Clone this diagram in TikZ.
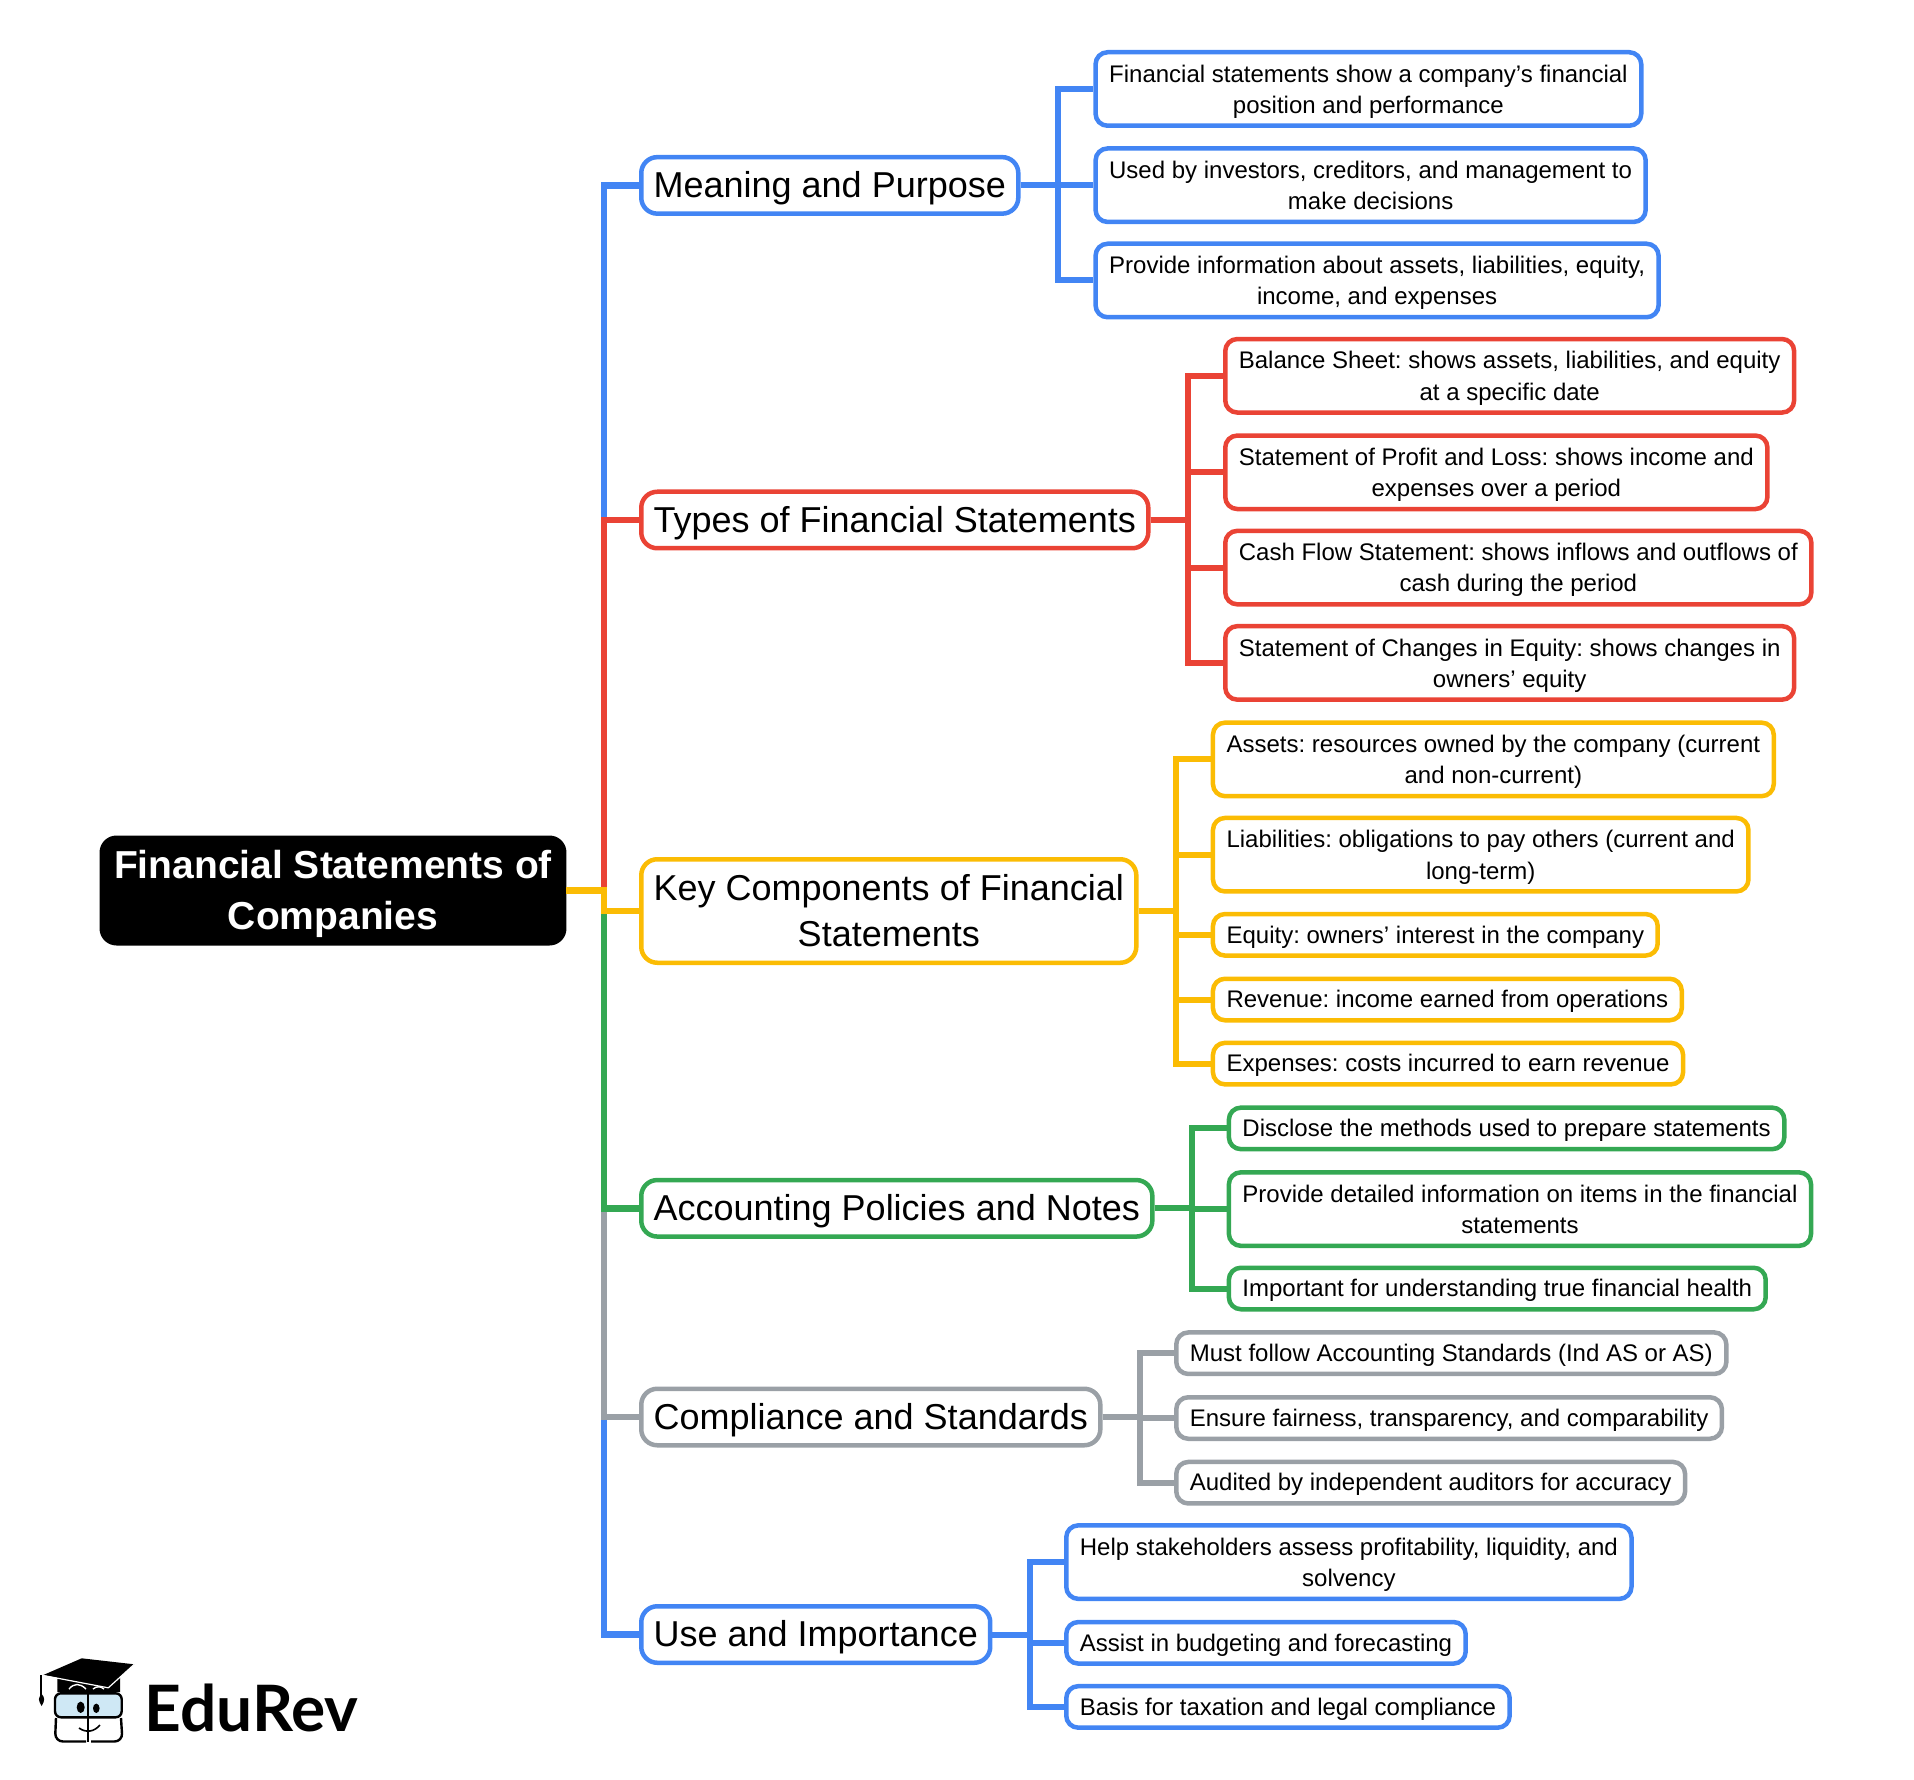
\documentclass[tikz,border=0pt]{standalone}
\usepackage{fontspec}
\setmainfont{Liberation Sans}
\newfontfamily\logofont{Lato}
\frenchspacing

\definecolor{gblue}{HTML}{4285F4}
\definecolor{gred}{HTML}{EA4335}
\definecolor{gyellow}{HTML}{FBBC04}
\definecolor{ggreen}{HTML}{34A853}
\definecolor{ggray}{HTML}{9AA0A6}
\definecolor{lenscol}{HTML}{CFE8F5}

\tikzset{
  rootbox/.style={fill=black, draw=black, line width=1pt, text=white, rounded corners=8pt, align=center,
    font=\fontsize{19.5}{25.2}\selectfont\bfseries, inner xsep=6.8pt, minimum height=54pt,
    text height=38.7pt, text depth=0pt},
  branch/.style={draw=#1, line width=2.25pt, rounded corners=8pt, align=center, anchor=west, fill=white,
    font=\fontsize{18}{23.3}\selectfont, inner xsep=6.2pt, minimum height=28.25pt,
    text height=16pt, text depth=4pt},
  leaf/.style={draw=#1, line width=2.25pt, rounded corners=6pt, align=center, anchor=west, fill=white,
    font=\fontsize{12}{15.6}\selectfont, inner xsep=6.8pt, minimum height=20.75pt,
    text height=10.6pt, text depth=2.4pt},
  tall/.style={minimum height=36.75pt, text height=24.3pt, text depth=0pt},
  elbow/.style={draw=#1, line width=3pt, to path={(\tikztostart.east) -- ++(37.5,0) |- (\tikztotarget.west)}},
  trunk/.style={elbow=#1, line width=3.4pt},
}

\begin{document}
\begin{tikzpicture}[x=0.5pt, y=-0.5pt]
      \useasboundingbox (0,0) rectangle (1914,1780);

      \node[rootbox] (root) at (333,890.5) {Financial Statements of\\Companies};

      \node[branch=gblue]   (mean) at (639,185.4)  {Meaning and Purpose};
      \node[branch=gred]    (type) at (639,520)    {Types of Financial Statements};
      \node[branch=gyellow, minimum height=51.75pt, text height=35.7pt, text depth=0pt] (comp) at (639,911) {Key Components of Financial\\Statements};
      \node[branch=ggreen]  (poli) at (639,1208.3) {Accounting Policies and Notes};
      \node[branch=ggray]   (stan) at (639,1417)   {Compliance and Standards};
      \node[branch=gblue]   (used) at (639,1634.5) {Use and Importance};

      \node[leaf=gblue, tall] (mean1) at (1093.3,89)    {Financial statements show a company’s financial\\position and performance};
      \node[leaf=gblue, tall] (mean2) at (1093.3,185.2) {Used by investors, creditors, and management to\\make decisions};
      \node[leaf=gblue, tall] (mean3) at (1093.3,280.5) {Provide information about assets, liabilities, equity,\\income, and expenses};

      \node[leaf=gred, tall] (type1) at (1223,375.8) {Balance Sheet: shows assets, liabilities, and equity\\at a specific date};
      \node[leaf=gred, tall] (type2) at (1223,472.3) {Statement of Profit and Loss: shows income and\\expenses over a period};
      \node[leaf=gred, tall] (type3) at (1223,567.6) {Cash Flow Statement: shows inflows and outflows of\\cash during the period};
      \node[leaf=gred, tall] (type4) at (1223,662.9) {Statement of Changes in Equity: shows changes in\\owners’ equity};

      \node[leaf=gyellow, tall] (comp1) at (1210.7,759.4) {Assets: resources owned by the company (current\\and non-current)};
      \node[leaf=gyellow, tall] (comp2) at (1210.7,854.7) {Liabilities: obligations to pay others (current and\\long-term)};
      \node[leaf=gyellow] (comp3) at (1210.7,934.8)  {Equity: owners’ interest in the company};
      \node[leaf=gyellow] (comp4) at (1210.7,999.5)  {Revenue: income earned from operations};
      \node[leaf=gyellow] (comp5) at (1210.7,1063.6) {Expenses: costs incurred to earn revenue};

      \node[leaf=ggreen] (poli1) at (1226.6,1128.4) {Disclose the methods used to prepare statements};
      \node[leaf=ggreen, tall] (poli2) at (1226.6,1209.1) {Provide detailed information on items in the financial\\statements};
      \node[leaf=ggreen] (poli3) at (1226.6,1288.5) {Important for understanding true financial health};

      \node[leaf=ggray] (stan1) at (1174,1353.2) {Must follow Accounting Standards (Ind AS or AS)};
      \node[leaf=ggray] (stan2) at (1174,1418)   {Ensure fairness, transparency, and comparability};
      \node[leaf=ggray] (stan3) at (1174,1482.7) {Audited by independent auditors for accuracy};

      \node[leaf=gblue, tall] (used1) at (1064,1562.1) {Help stakeholders assess profitability, liquidity, and\\solvency};
      \node[leaf=gblue] (used2) at (1064,1642.8) {Assist in budgeting and forecasting};
      \node[leaf=gblue] (used3) at (1064,1706.9) {Basis for taxation and legal compliance};

      % main branches, last one on top
      \path (root) edge[trunk=gblue]   (mean);
      \path (root) edge[trunk=gred]    (type);
      \path (root) edge[trunk=gblue]   (used);
      \path (root) edge[trunk=ggray]   (stan);
      \path (root) edge[trunk=ggreen]  (poli);
      \path (root) edge[trunk=gyellow] (comp);

      \path (mean) edge[elbow=gblue] (mean1);
      \path (mean) edge[elbow=gblue] (mean2);
      \path (mean) edge[elbow=gblue] (mean3);

      \path (type) edge[elbow=gred] (type1);
      \path (type) edge[elbow=gred] (type2);
      \path (type) edge[elbow=gred] (type3);
      \path (type) edge[elbow=gred] (type4);

      \path (comp) edge[elbow=gyellow] (comp1);
      \path (comp) edge[elbow=gyellow] (comp2);
      \path (comp) edge[elbow=gyellow] (comp3);
      \path (comp) edge[elbow=gyellow] (comp4);
      \path (comp) edge[elbow=gyellow] (comp5);

      \path (poli) edge[elbow=ggreen] (poli1);
      \path (poli) edge[elbow=ggreen] (poli2);
      \path (poli) edge[elbow=ggreen] (poli3);

      \path (stan) edge[elbow=ggray] (stan1);
      \path (stan) edge[elbow=ggray] (stan2);
      \path (stan) edge[elbow=ggray] (stan3);

      \path (used) edge[elbow=gblue] (used1);
      \path (used) edge[elbow=gblue] (used2);
      \path (used) edge[elbow=gblue] (used3);

      % logo
      \node[anchor=base west, inner sep=0pt, font=\fontsize{32}{32}\logofont\bfseries] (logo) at (144.5,1731) {EduRev};
      \fill (57.3,1677) -- (120,1675) -- (120,1692) -- (57.3,1692) -- cycle;
      \fill (43.3,1675) -- (81.7,1658.3) -- (134.3,1664.3) -- (108.3,1687.3) -- cycle;
      \draw[line width=0.6pt, white] (43.3,1675.5) -- (108.3,1687.8) -- (134.3,1664.3);
      \draw[line width=0.7pt] (41,1675) -- (41,1697);
      \fill (41.7,1694) .. controls (38,1698) and (38,1700) .. (41.7,1706) .. controls (45,1700) and (45,1698) .. (41.7,1694) -- cycle;
      \draw[white, line width=0.7pt] (69,1689) .. controls (74,1683) and (80,1683) .. (86,1689);
      \draw[white, line width=0.7pt] (93,1689) .. controls (97,1686) and (100,1686) .. (104,1689);
      \draw[line width=1.2pt, fill=lenscol, rounded corners=3pt] (55,1693.3) rectangle (121.7,1717.3);
      \draw[line width=1.2pt, rounded corners=4pt] (56,1718) -- (55,1741.5) -- (86,1741.5);
      \draw[line width=1.2pt, rounded corners=4pt] (121,1718) -- (122.5,1741.5) -- (91,1741.5);
      \draw[line width=1.1pt] (88.3,1692.7) -- (88.3,1741.7);
      \fill (80.7,1707.3) ellipse [x radius=4, y radius=5.7];
      \fill (96.3,1708.3) ellipse [x radius=3.3, y radius=4.7];
      \draw[line width=0.8pt] (79,1728) .. controls (86,1733) and (94,1732) .. (100,1725);
    \end{tikzpicture}
\end{document}
